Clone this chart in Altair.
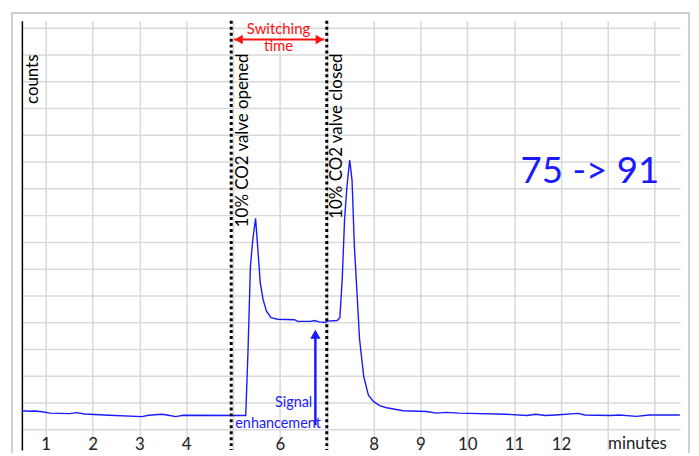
import altair as alt
import pandas as pd

# ---- data ----
minutes = [0.49, 0.66, 0.77, 0.92, 1.09, 1.51, 1.66, 1.83, 2.35, 3.05,
           3.20, 3.48, 3.62, 3.77, 3.94, 5.27, 5.32, 5.37, 5.42, 5.48,
           5.53, 5.58, 5.64, 5.71, 5.81, 5.95, 6.31, 6.38, 6.66, 6.73,
           6.84, 6.98, 7.01, 7.22, 7.28, 7.33, 7.38, 7.43, 7.49, 7.54,
           7.59, 7.65, 7.70, 7.79, 7.89, 8.00, 8.14, 8.28, 8.63, 9.13,
           9.34, 9.55, 9.83, 10.82, 11.28, 11.46, 11.67, 11.88, 12.37, 12.51,
           13.06, 13.25, 13.61, 13.89, 14.54]
counts = [0.69, 0.67, 0.68, 0.65, 0.60, 0.58, 0.62, 0.57, 0.52, 0.47,
          0.52, 0.56, 0.52, 0.47, 0.52, 0.51, 3.00, 6.09, 7.07, 7.88,
          6.70, 5.47, 4.85, 4.42, 4.17, 4.11, 4.09, 4.03, 4.03, 4.06,
          4.01, 3.99, 4.04, 4.06, 4.17, 5.59, 7.82, 9.05, 10.06, 9.30,
          6.83, 4.97, 3.37, 1.96, 1.27, 1.03, 0.87, 0.80, 0.69, 0.66,
          0.60, 0.63, 0.60, 0.56, 0.51, 0.56, 0.51, 0.53, 0.59, 0.53,
          0.51, 0.53, 0.48, 0.53, 0.53]

tick_values = list(range(1, 15))
tick_labels = ["1", "2", "3", "4", "", "6", "", "8", "9", "10", "11", "12", "", ""]
grid_counts = list(range(0, 16))

valve_times = [4.96, 7.0]
valve_labels = ["10% CO2 valve opened", "10% CO2 valve closed"]
valve_label_x = [5.21, 7.22]
label_top = 14.04

switch_start, switch_end, switch_level = 5.02, 6.95, 14.56
switch_text = ["Switching", "time"]
switch_text_y = [14.96, 14.30]
switch_text_x = 5.97

ratio_text = "75 -> 91"
ratio_x, ratio_y = 12.62, 9.59

signal_text = ["Signal", "enhancement"]
signal_x = [6.69, 5.96]
signal_y = [0.96, 0.185]
arrow_x, arrow_bottom, arrow_top = 6.757, 0.15, 3.45
arrow_head_y = 3.55

counts_label_x, counts_label_y = 0.725, 14.0
minutes_label_x, minutes_label_y = 13.635, -0.55

X_DOMAIN = [0.49, 14.545]
Y_DOMAIN = [-0.78, 15.26]
FONT = "Lato"
BLUE = "#1a1aff"
RED = "#ff1010"

label_map = "{" + ",".join(f"'{v}':'{l}'" for v, l in zip(tick_values, tick_labels)) + "}"

xs = alt.Scale(domain=X_DOMAIN, nice=False, zero=False)
ys = alt.Scale(domain=Y_DOMAIN, nice=False, zero=False)

x_axis = alt.Axis(values=tick_values, title=None, domain=False, ticks=False,
                  grid=True, labelExpr=f"{label_map}[''+datum.value]",
                  labelPadding=-6, labelBaseline="middle", labelFont=FONT,
                  labelFontSize=17, labelColor="#222222", labelOverlap=False,
                  labelFlush=False)
y_axis = alt.Axis(values=grid_counts, labels=False, ticks=False, title=None,
                  domain=True, domainColor="black", domainWidth=1.5, grid=True,
                  labelOverlap=False)


def X(field):
    return alt.X(field, scale=xs, axis=x_axis, title=None)


def Y(field):
    return alt.Y(field, scale=ys, axis=y_axis, title=None)


df = pd.DataFrame({"minutes": minutes, "counts": counts})

line = alt.Chart(df).mark_line(color=BLUE, strokeWidth=1.4).encode(
    x=X("minutes:Q"), y=Y("counts:Q"))

frame = alt.Chart(pd.DataFrame({"a": [0]})).mark_rect(
    fillOpacity=0, stroke="#d0d0d0", strokeWidth=2
).encode(x=alt.value(-10), x2=alt.value(673), y=alt.value(-8), y2=alt.value(470))

vdf = pd.DataFrame({"t": valve_times})
vlines = alt.Chart(vdf).mark_rule(color="black", strokeWidth=3, strokeDash=[3, 3]).encode(
    x=X("t:Q"))

vlab = pd.DataFrame({"x": valve_label_x, "y": [label_top] * 2, "text": valve_labels})
vtext = alt.Chart(vlab).mark_text(angle=270, align="right", baseline="middle",
                                   font=FONT, fontSize=17, color="black").encode(
    x=X("x:Q"), y=Y("y:Q"), text="text:N")

cdf = pd.DataFrame({"x": [counts_label_x], "y": [counts_label_y], "text": ["counts"]})
ctext = alt.Chart(cdf).mark_text(angle=270, align="right", baseline="middle",
                                  font=FONT, fontSize=17, color="black").encode(
    x=X("x:Q"), y=Y("y:Q"), text="text:N")

mdf = pd.DataFrame({"x": [minutes_label_x], "y": [minutes_label_y], "text": ["minutes"]})
mtext = alt.Chart(mdf).mark_text(align="center", baseline="middle",
                                  font=FONT, fontSize=17, color="#222222").encode(
    x=X("x:Q"), y=Y("y:Q"), text="text:N")

sdf = pd.DataFrame({"x": [switch_start], "x2": [switch_end], "y": [switch_level]})
srule = alt.Chart(sdf).mark_rule(color=RED, strokeWidth=2).encode(
    x=X("x:Q"), x2="x2:Q", y=Y("y:Q"))
hdf = pd.DataFrame({"x": [switch_start + 0.1, switch_end - 0.1],
                    "y": [switch_level] * 2,
                    "shape": ["triangle-left", "triangle-right"]})
sheads = alt.Chart(hdf).mark_point(filled=True, color=RED, size=90, opacity=1).encode(
    x=X("x:Q"), y=Y("y:Q"),
    shape=alt.Shape("shape:N", scale=None, legend=None))
stdf = pd.DataFrame({"x": [switch_text_x] * 2, "y": switch_text_y, "text": switch_text})
stext = alt.Chart(stdf).mark_text(align="center", baseline="middle", font=FONT,
                                   fontSize=15, color=RED).encode(
    x=X("x:Q"), y=Y("y:Q"), text="text:N")

rdf = pd.DataFrame({"x": [ratio_x], "y": [ratio_y], "text": [ratio_text]})
rtext = alt.Chart(rdf).mark_text(align="center", baseline="middle", font=FONT,
                                  fontSize=37, color=BLUE).encode(
    x=X("x:Q"), y=Y("y:Q"), text="text:N")

sig1 = alt.Chart(pd.DataFrame({"x": [signal_x[0]], "y": [signal_y[0]], "text": [signal_text[0]]})
                 ).mark_text(align="right", baseline="middle", font=FONT,
                             fontSize=14.5, color=BLUE).encode(
    x=X("x:Q"), y=Y("y:Q"), text="text:N")
sig2 = alt.Chart(pd.DataFrame({"x": [signal_x[1]], "y": [signal_y[1]], "text": [signal_text[1]]})
                 ).mark_text(align="center", baseline="middle", font=FONT,
                             fontSize=14.5, color=BLUE).encode(
    x=X("x:Q"), y=Y("y:Q"), text="text:N")

adf = pd.DataFrame({"x": [arrow_x], "y": [arrow_bottom], "y2": [arrow_top]})
arule = alt.Chart(adf).mark_rule(color=BLUE, strokeWidth=2.5).encode(
    x=X("x:Q"), y=Y("y:Q"), y2="y2:Q")
ahdf = pd.DataFrame({"x": [arrow_x], "y": [arrow_head_y]})
ahead = alt.Chart(ahdf).mark_point(filled=True, color=BLUE, size=110, opacity=1,
                                    shape="triangle-up").encode(
    x=X("x:Q"), y=Y("y:Q"))

chart = alt.layer(
    line, frame, vlines, vtext, ctext, mtext, srule, sheads, stext, rtext,
    sig1, sig2, arule, ahead
).properties(
    width=664, height=433,
    padding={"left": 14, "top": 11, "right": 11, "bottom": 1},
    autosize=alt.AutoSizeParams(type="none"),
).configure_view(stroke=None).configure_axis(
    gridColor="#d9d9d9", gridWidth=1.5
)

chart.save("out.html", embed_options={"renderer": "svg", "actions": False})
